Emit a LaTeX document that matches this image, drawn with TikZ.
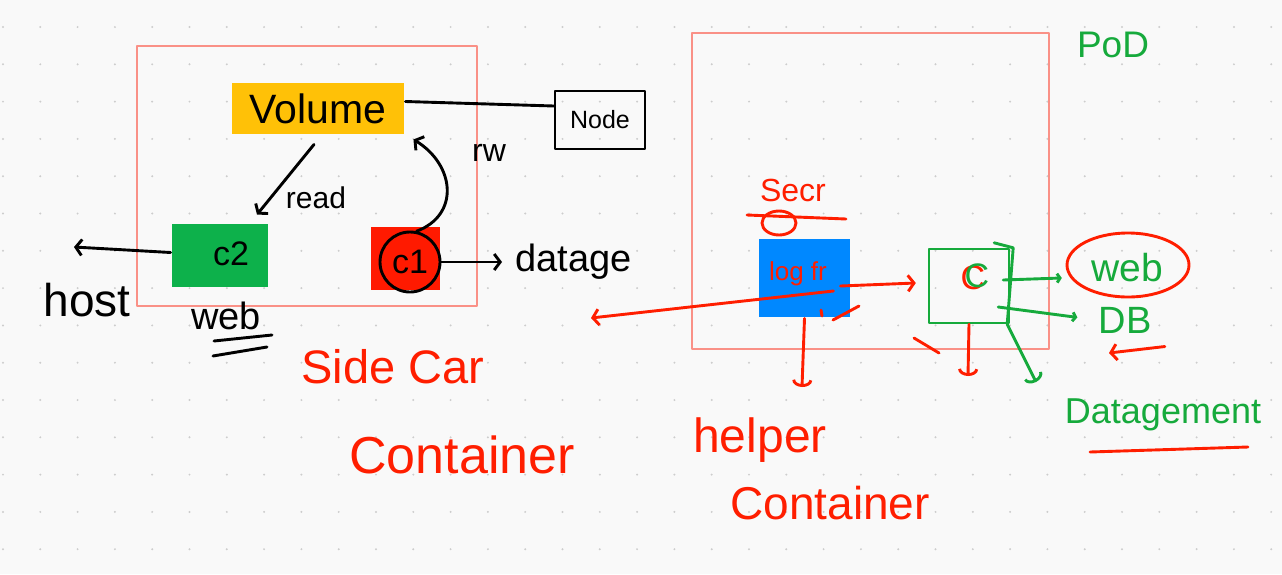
\documentclass[tikz,border=0pt]{standalone}
\usepackage{fontspec}
\setmainfont{Liberation Sans}
\usetikzlibrary{arrows.meta}

\definecolor{paper}{RGB}{249,249,249}
\definecolor{dotgray}{RGB}{205,205,205}
\definecolor{podline}{RGB}{250,145,135}
\definecolor{volfill}{RGB}{255,193,7}
\definecolor{cgreen}{RGB}{13,177,75}
\definecolor{cred}{RGB}{255,26,0}
\definecolor{cblue}{RGB}{0,136,255}
\definecolor{penred}{RGB}{255,30,0}
\definecolor{pengreen}{RGB}{22,170,60}

\tikzset{
  hand/.style={font=\fontsize{#1}{#1}\selectfont, inner sep=0pt},
  pod/.style={draw=podline, line width=1.3pt},
  hookarrow/.style={-{Arc Barb[length=7pt,width=20pt]}},
  smalltip/.style={-{Straight Barb[length=3pt,width=9pt]}},
}

\begin{document}
\begin{tikzpicture}[x=1pt, y=-1pt, line width=2.9pt, line cap=round, line join=round,
  >={Straight Barb[length=6pt,width=16pt]}]
\fill[paper] (0,0) rectangle (1282,574);
\useasboundingbox (0,0) rectangle (1282,574);
\foreach \i in {0,...,34}
  \foreach \j in {0,...,14}
    \fill[dotgray] (3+37.3*\i,27+37.3*\j) circle (1.1pt);

% side car pod
\draw[pod] (137,46) rectangle (477,306);
\node[fill=volfill, minimum width=172pt, minimum height=51pt, hand=41] (vol) at (318,108.5) {Volume};
\node[draw, line width=2.4pt, minimum width=90pt, minimum height=58pt, hand=25] (nd) at (600,120) {Node};
\node[fill=cgreen, minimum width=96pt, minimum height=63pt] (ctwo) at (220,255.5) {};
\node[hand=34] (ctwotxt) at (231,254) {c2};
\node[fill=cred, minimum width=69pt, minimum height=63pt] (cone) at (405.5,258.5) {};
\node[draw, circle, minimum size=60pt, hand=34] (ring) at (410,262) {c1};

\draw ([yshift=7pt]vol.east) -- ([yshift=14pt]nd.west);
\draw[->] ([xshift=-4pt,yshift=-9pt]vol.south) -- ([xshift=37pt,yshift=8pt]ctwo.north);
\node[hand=30] (readlbl) at (316,198) {read};
\draw[->] (ring.78) .. controls (460,215) and (455,165) .. ([xshift=8pt,yshift=-4pt]vol.south east);
\node[hand=32] (rwlbl) at (489,153) {rw};

\node[hand=38, anchor=west] (datage) at (514,262) {datage};
\draw[->] (ring.east) -- ([xshift=-12pt]datage.west);

\coordinate (hostend) at (74,247);
\draw[->] ([yshift=3pt]ctwo.west) -- (hostend);
\node[hand=46] (host) at (87,300) {host};
\node[hand=38] (webl) at (226,316) {web};
\draw (214,341) -- (272,335);
\draw (213,356) -- (267,347);

\node[hand=47, text=penred] (sidecar) at (393,367) {Side Car};
\node[hand=52, text=penred] (sccont) at (462,455) {Container};

% helper pod
\draw[pod] (692,33) rectangle (1049,349);
\node[hand=37, text=pengreen] (podlbl) at (1113,45) {PoD};
\node[hand=32, text=penred] (secr) at (793,190) {Secr};
\draw[penred] (747,215) -- (846,219);
\draw[penred] (779,223) ellipse (17pt and 12pt);
\node[fill=cblue, minimum width=91pt, minimum height=78pt] (blue) at (804.5,278) {};
\node[hand=26, text=penred] (logfr) at (798,274) {log fr};
\node[draw=pengreen, minimum width=80pt, minimum height=74pt, line width=2.4pt] (gbox) at (969,286) {};
\node[hand=34, text=penred] (cletter) at (973,278) {C};
\node[hand=34, text=pengreen] (cgrn) at (977,276) {C};

\coordinate (leftend) at (591,318);
\draw[->, penred] ([xshift=-18pt,yshift=-13pt]blue.east) -- (leftend);
\draw[->, penred] ([xshift=-11pt,yshift=-8pt]blue.east) -- ([xshift=-12pt,yshift=3pt]gbox.west);
\coordinate (bluedown) at (802,387);
\draw[penred, hookarrow] (blue.south) -- (bluedown);
\coordinate (gdown) at (968,376);
\draw[penred, hookarrow] (gbox.south) -- (gdown);
\draw[penred] (914,338) -- (939,353);
\draw[penred] (859,306) -- (833,320);
\draw[penred] (821,310) -- (822,316);

\draw[pengreen] ([xshift=-16pt,yshift=5pt]gbox.north east) -- ([xshift=3pt]gbox.north east) -- ([xshift=-3pt]gbox.south east);
\coordinate (gdown2) at (1036,382);
\draw[pengreen, hookarrow] ([xshift=-3pt]gbox.south east) -- (gdown2);

\node[hand=39, text=pengreen] (webr) at (1127,268) {web};
\draw[penred] (1128,265) ellipse (61pt and 32pt);
\draw[pengreen, smalltip, shorten >=28pt] ([xshift=-7pt,yshift=6pt]gbox.east) -- ([yshift=-9pt]webr.west);
\node[hand=38, text=pengreen] (db) at (1125,320) {DB};
\draw[pengreen, smalltip, shorten >=20pt] ([xshift=-12pt,yshift=-21pt]gbox.east) -- (db.west);
\coordinate (dbarrow) at (1109,353);
\draw[penred, ->] ([xshift=12pt,yshift=-12pt]db.south east) -- (dbarrow);

\node[hand=36, text=pengreen] (datamgmt) at (1163,415) {Datagement};
\draw[penred] (1090,452) -- (1248,447);

\node[hand=48, text=penred] (helper) at (760,440) {helper};
\node[hand=46, text=penred] (hcont) at (830,503) {Container};
\end{tikzpicture}
\end{document}
